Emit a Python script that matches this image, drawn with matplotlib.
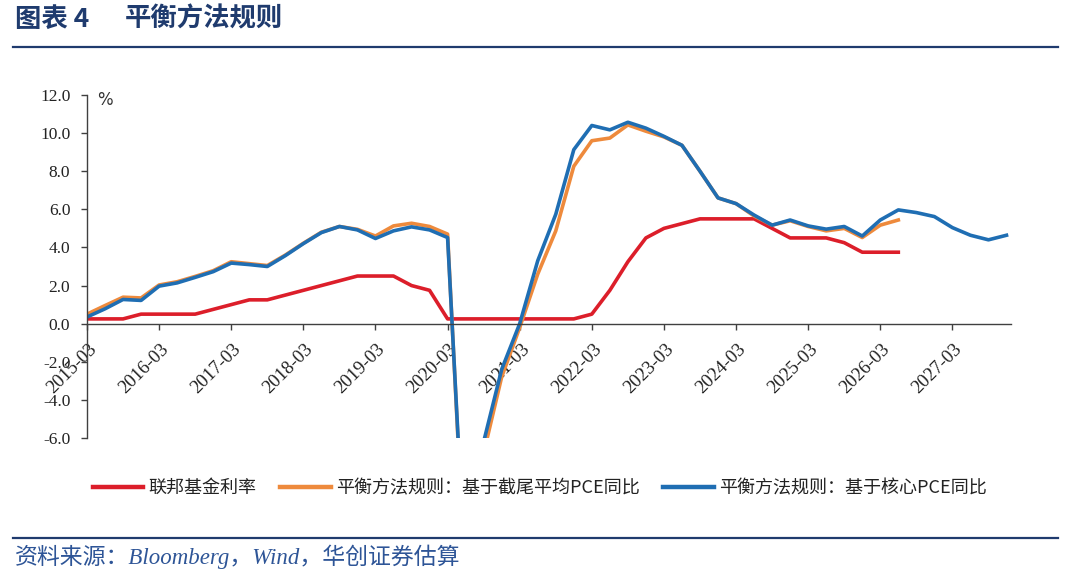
import matplotlib
matplotlib.use("Agg")
import matplotlib.pyplot as plt
import matplotlib.transforms as mtransforms
import numpy as np
from matplotlib.lines import Line2D

plt.rcParams['font.family'] = ['Liberation Serif', 'Noto Sans CJK SC', 'DejaVu Sans']
plt.rcParams['axes.unicode_minus'] = False

# quarterly categories 2015-03 .. 2027-12
years = list(range(2015, 2028))
quarters = [f"{y}-{m:02d}" for y in years for m in (3, 6, 9, 12)]
tick_labels = [q for q in quarters if q.endswith("-03")]

nan = np.nan
fed_funds = [0.25, 0.25, 0.25, 0.5, 0.5, 0.5, 0.5, 0.75, 1.0, 1.25, 1.25, 1.5,
             1.75, 2.0, 2.25, 2.5, 2.5, 2.5, 2.0, 1.75, 0.25, 0.25, 0.25, 0.25,
             0.25, 0.25, 0.25, 0.25, 0.5, 1.75, 3.25, 4.5, 5.0, 5.25, 5.5, 5.5,
             5.5, 5.5, 5.0, 4.5, 4.5, 4.5, 4.25, 3.75, 3.75, 3.75,
             nan, nan, nan, nan, nan, nan]
rule_trimmed = [0.5, 0.95, 1.39, 1.35, 2.03, 2.2, 2.48, 2.78, 3.25, 3.15, 3.05, 3.6,
                4.22, 4.8, 5.1, 4.95, 4.6, 5.13, 5.27, 5.1, 4.7, -14.0, -6.8, -2.8,
                -0.2, 2.6, 4.87, 8.26, 9.6, 9.74, 10.43, 10.1, 9.8, 9.36, 8.0, 6.6,
                6.3, 5.65, 5.17, 5.4, 5.1, 4.87, 5.0, 4.52, 5.17, 5.44,
                nan, nan, nan, nan, nan, nan]
rule_core = [0.35, 0.78, 1.27, 1.22, 1.97, 2.14, 2.43, 2.73, 3.18, 3.1, 3.0, 3.57,
             4.2, 4.78, 5.1, 4.92, 4.47, 4.87, 5.08, 4.92, 4.52, -13.5, -6.2, -2.4,
             0.0, 3.3, 5.74, 9.13, 10.4, 10.17, 10.57, 10.26, 9.83, 9.36, 8.0, 6.6,
             6.3, 5.7, 5.17, 5.44, 5.13, 4.96, 5.1, 4.6, 5.44, 5.97, 5.83, 5.62,
             5.04, 4.64, 4.4, 4.64]

series_names = ["联邦基金利率", "平衡方法规则：基于截尾平均PCE同比", "平衡方法规则：基于核心PCE同比"]
colors = ["#dc1e2a", "#ee8a3c", "#1f6eb3"]

fig = plt.figure(figsize=(10.8, 5.8), dpi=100)
ax = fig.add_axes([87/1080, 1-438/580, (1011-87)/1080, (438-95)/580])

x = np.arange(len(quarters))
for vals, name, c in zip([fed_funds, rule_trimmed, rule_core], series_names, colors):
    ax.plot(x, vals, color=c, lw=2.6, label=name, solid_joinstyle='round')

ax.set_xlim(0, 51.25)
ax.set_ylim(-6, 12)
yt = np.arange(-6, 12.1, 2)
ax.set_yticks(yt)
ax.set_yticklabels([f"{v:.1f}" for v in yt])
ax.set_xticks([i for i, q in enumerate(quarters) if q.endswith("-03")])
ax.set_xticklabels(tick_labels)

for s in ['top', 'right']:
    ax.spines[s].set_visible(False)
ax.spines['bottom'].set_position(('data', 0))
for s in ['left', 'bottom']:
    ax.spines[s].set_color('#404040')
    ax.spines[s].set_linewidth(1.0)
ax.tick_params(axis='both', direction='out', length=4, width=1.0, color='#404040',
               labelsize=12.5, labelcolor='#222222')
ax.tick_params(axis='y', pad=8)
ax.tick_params(axis='x', pad=8, labelrotation=45, labelsize=13.5)

offset = mtransforms.ScaledTranslation(1/100, 0, fig.dpi_scale_trans)
for lbl in ax.get_xticklabels():
    lbl.set_ha('right')
    lbl.set_va('top')
    lbl.set_rotation_mode('anchor')
    lbl.set_transform(lbl.get_transform() + offset)

ax.text(0.011, 1.012, "%", transform=ax.transAxes, ha='left', va='top',
        fontsize=12, family=['DejaVu Sans'], color='#333333')

# legend
leg = fig.legend(loc='center', bbox_to_anchor=(540/1080, 1-488/580), ncol=3, frameon=False,
                 handlelength=2.8, handletextpad=0.3, columnspacing=1.3,
                 prop={'family': ['Noto Sans CJK SC'], 'size': 13})
for t in leg.get_texts():
    t.set_color('#222222')
for h in leg.legend_handles:
    h.set_linewidth(3.2)

# title and rules
title_color = '#1f3b6e'
fig.text(15/1080, 1-19/580, "图表 4", ha='left', va='center', fontsize=19, fontweight='bold',
         color=title_color, family=['Noto Sans CJK SC'])
fig.text(125/1080, 1-19/580, "平衡方法规则", ha='left', va='center', fontsize=19, fontweight='bold',
         color=title_color, family=['Noto Sans CJK SC'])
fig.add_artist(Line2D([13/1080, 1058/1080], [1-47/580]*2, color='#1f3b6e', lw=1.6))
fig.add_artist(Line2D([13/1080, 1058/1080], [1-538/580]*2, color='#1f3b6e', lw=1.6))

fig.text(15/1080, 1-557/580, "资料来源：Bloomberg，Wind，华创证券估算", ha='left', va='center',
         fontsize=16.5, style='italic', color='#2e5597',
         family=['Liberation Serif', 'Noto Sans CJK SC'])

fig.savefig("out.png", dpi=100)
